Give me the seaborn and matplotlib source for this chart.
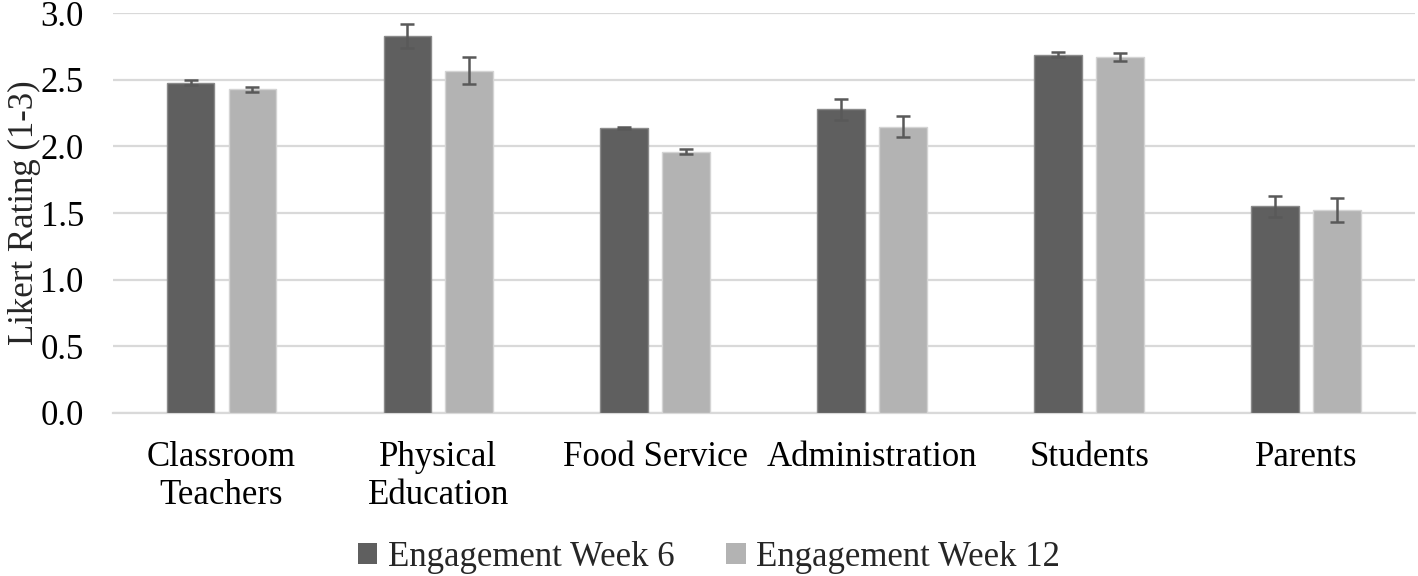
import numpy as np
import pandas as pd
import matplotlib
matplotlib.use("Agg")
import matplotlib.pyplot as plt
import seaborn as sns

# =====================================
# DATA
# =====================================

categories = [
    "Classroom\nTeachers",
    "Physical\nEducation",
    "Food Service",
    "Administration",
    "Students",
    "Parents",
]

week6_mean = [2.48, 2.83, 2.14, 2.28, 2.69, 1.55]
week6_err = [0.02, 0.09, 0.01, 0.08, 0.02, 0.08]

week12_mean = [2.43, 2.57, 1.96, 2.15, 2.67, 1.52]
week12_err = [0.02, 0.10, 0.02, 0.08, 0.03, 0.09]

series_names = ["Engagement Week 6", "Engagement Week 12"]
yticks = [0.0, 0.5, 1.0, 1.5, 2.0, 2.5, 3.0]

# =====================================
# STYLE
# =====================================

sns.set_style("white")
plt.rcParams["font.family"] = ["Liberation Serif", "DejaVu Serif"]

colors = ["#5f5f5f", "#b3b3b3"]
edges = ["#8a8a8a", "#d4d4d4"]

df = pd.DataFrame({
    "category": categories * 2,
    "series": [series_names[0]] * len(categories) + [series_names[1]] * len(categories),
    "value": week6_mean + week12_mean,
})

# =====================================
# PLOT
# =====================================

fig = plt.figure(figsize=(14.18, 5.76), dpi=100)
ax = fig.add_axes([0.0797, 0.283, 0.918, 0.694])

sns.barplot(
    data=df,
    x="category",
    y="value",
    hue="series",
    order=categories,
    hue_order=series_names,
    palette=colors,
    width=0.571,
    gap=0.227,
    errorbar=None,
    legend=False,
    ax=ax,
    zorder=3,
)

# colour edges and add error bars at the bar centres
errs = [week6_err, week12_err]
bar_groups = list(ax.containers)
for i, cont in enumerate(bar_groups):
    xs = []
    means = []
    for bar in cont:
        bar.set_edgecolor(edges[i])
        bar.set_linewidth(1.0)
        xs.append(bar.get_x() + bar.get_width() / 2)
        means.append(bar.get_height())
    ax.errorbar(
        xs, means, yerr=errs[i],
        fmt="none", ecolor="#595959",
        elinewidth=1.8, capsize=5, capthick=1.8,
        zorder=4,
    )

ax.set_ylim(0, 3.0)
ax.set_xlim(-0.5, len(categories) - 0.5)
ax.set_yticks(yticks)
ax.set_yticklabels([f"{t:.1f}" for t in yticks])

ax.yaxis.grid(True, color="#d9d9d9", linewidth=1.6, zorder=0)
ax.set_axisbelow(True)
for side in ["top", "right", "left"]:
    ax.spines[side].set_visible(False)
ax.spines["bottom"].set_color("#d9d9d9")
ax.spines["bottom"].set_linewidth(1.6)

ax.tick_params(axis="both", length=0, labelsize=25, colors="black")
ax.tick_params(axis="x", pad=20)
ax.tick_params(axis="y", pad=21)

ax.set_xlabel("")
ax.set_ylabel("Likert Rating (1-3)", fontsize=25)
ax.yaxis.set_label_coords(-0.055, 0.5)

handles = [
    plt.Rectangle((0, 0), 1, 1, facecolor=colors[0], edgecolor="none"),
    plt.Rectangle((0, 0), 1, 1, facecolor=colors[1], edgecolor="none"),
]
fig.legend(
    handles, series_names,
    loc="lower center",
    bbox_to_anchor=(0.5, -0.05),
    ncol=2,
    frameon=False,
    fontsize=25,
    handlelength=0.55,
    handleheight=0.55,
    handletextpad=0.3,
    columnspacing=1.5,
)

fig.savefig("out.png", dpi=100)
